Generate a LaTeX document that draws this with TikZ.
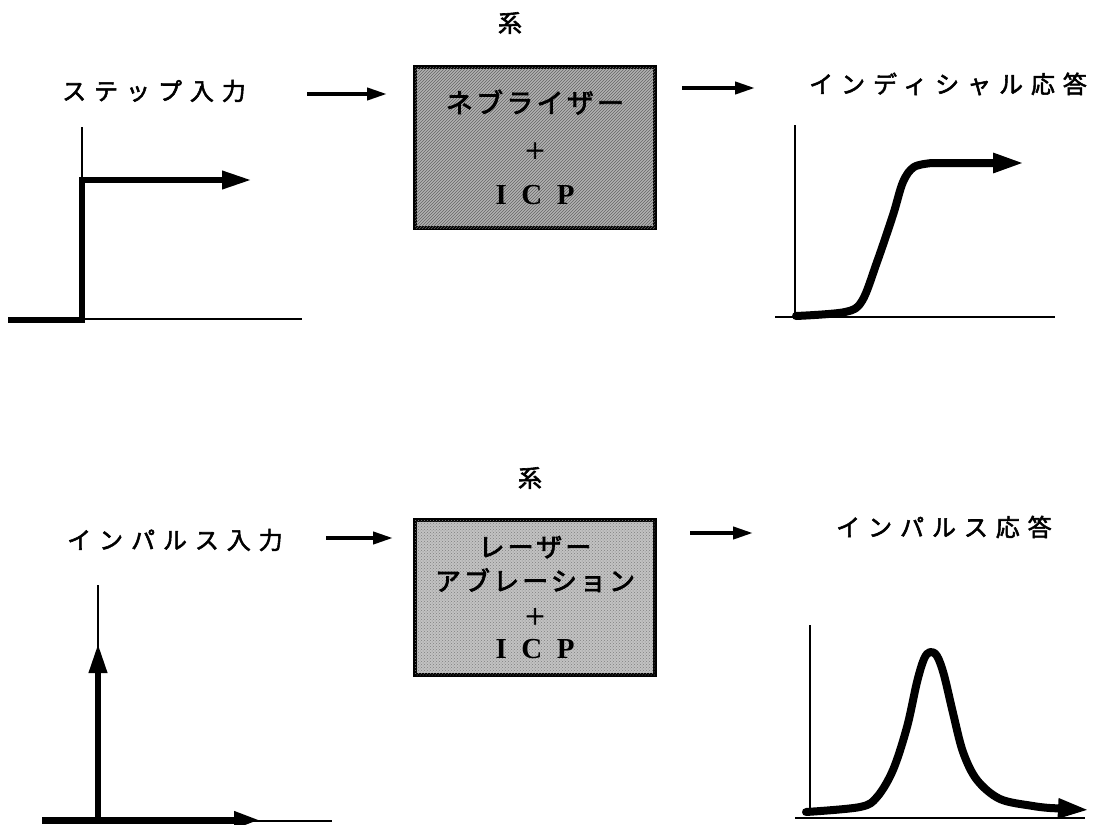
\documentclass[tikz,border=0pt]{standalone}
\usepackage{fontspec}
\setmainfont{Liberation Serif}
\newfontfamily\jplab{Noto Sans CJK JP}[LetterSpace=33,FakeBold=2.2]
\newfontfamily\jpbox{Noto Sans CJK JP}[LetterSpace=12,FakeBold=2.8]
\newfontfamily\jpsys{Noto Sans CJK JP}[FakeBold=2.5]
\usetikzlibrary{arrows.meta,patterns}
\begin{document}
\begin{tikzpicture}[x=1pt,y=-1pt,
  lbl/.style={font=\jplab\fontsize{24}{24}\selectfont, inner sep=0pt, anchor=west},
  sysname/.style={font=\jpsys\fontsize{24}{24}\selectfont, inner sep=0pt},
  sysbox/.style={draw, line width=4pt, minimum width=240pt, align=center, inner sep=0pt},
  plus/.style={},
  flow/.style={line width=4pt, -{Triangle[length=20pt,width=12pt]}},
  thinax/.style={line width=1.6pt},
  thickln/.style={line width=6.5pt, line join=miter, -{Triangle[length=30pt,width=17pt]}},
  curveln/.style={line width=8pt, line cap=round, line join=round, -{Triangle[length=32pt,width=18pt]}}
]
\useasboundingbox (0,0) rectangle (1096,825);

% ---------- top row ----------
\node[lbl] (in1) at (62,91) {ステップ入力};
\node[sysname] (s1) at (510,23) {系};
\node[sysbox, minimum height=161pt, fill=black!30,
      postaction={pattern=north east lines, pattern color=black!60},
      font=\fontsize{27}{46}\selectfont] (b1) at (535,147.5)
  {{\jpbox ネブライザー}\\ {\jpbox\fontsize{22}{22}\selectfont ＋}\\ {\fontsize{29}{29}\selectfont\bfseries I\hspace{0.5em}C\hspace{0.5em}P}};
\node[lbl] (out1) at (809,84) {インディシャル応答};

\coordinate (a1s) at (307,94);  \coordinate (a1e) at (387,94);
\coordinate (a2s) at (682,88);  \coordinate (a2e) at (755,88);
\draw[flow] (a1s) -- (a1e);
\draw[flow] (a2s) -- (a2e);

% step input graph
\draw[thinax] (82,127) -- (82,320);
\draw[thinax] (82,319) -- (302,319);
\draw[thickln] (8,320) -- (82,320) -- (82,180) -- (252,180);

% indicial response graph
\draw[thinax] (795,125) -- (795,318);
\draw[thinax] (775,317) -- (1055,317);
\draw[curveln] plot[smooth, tension=0.55] coordinates
  {(796,316) (845,312) (862,301) (877,262) (893,215) (903,182) (914,167) (932,163)}
  -- (1025,163);

% ---------- bottom row ----------
\node[lbl] (in2) at (67,540) {インパルス入力};
\node[sysname] (s2) at (530,478) {系};
\node[sysbox, minimum height=155pt, fill=black!24,
      postaction={pattern=crosshatch dots, pattern color=black!50},
      font=\fontsize{26}{34}\selectfont] (b2) at (535,597.5)
  {{\jpbox レーザー}\\ {\jpbox アブレーション}\\ {\jpbox\fontsize{22}{22}\selectfont ＋}\\ {\fontsize{29}{29}\selectfont\bfseries I\hspace{0.5em}C\hspace{0.5em}P}};
\node[lbl] (out2) at (836,527) {インパルス応答};

\coordinate (a3s) at (326,538);  \coordinate (a3e) at (393,538);
\coordinate (a4s) at (690,533);  \coordinate (a4e) at (753,533);
\draw[flow] (a3s) -- (a3e);
\draw[flow] (a4s) -- (a4e);

% impulse input graph
\draw[thinax] (98,585) -- (98,818);
\draw[thinax] (42,821) -- (332,821);
\draw[thickln] (98,820) -- (98,643);
\draw[line width=7pt, -{Triangle[length=26pt,width=16pt]}] (42,820) -- (260,820);

% impulse response graph
\draw[thinax] (810,625) -- (810,815);
\draw[thinax] (795,818) -- (1085,818);
\draw[curveln] plot[smooth, tension=0.55] coordinates
  {(806,812) (860,807) (877,797) (893,770) (907,727) (917,682) (924,659) (930,652)
   (937,656) (944,675) (953,713) (963,752) (977,780) (1000,799) (1033,806) (1050,808)}
  -- (1090,810);
\end{tikzpicture}
\end{document}
